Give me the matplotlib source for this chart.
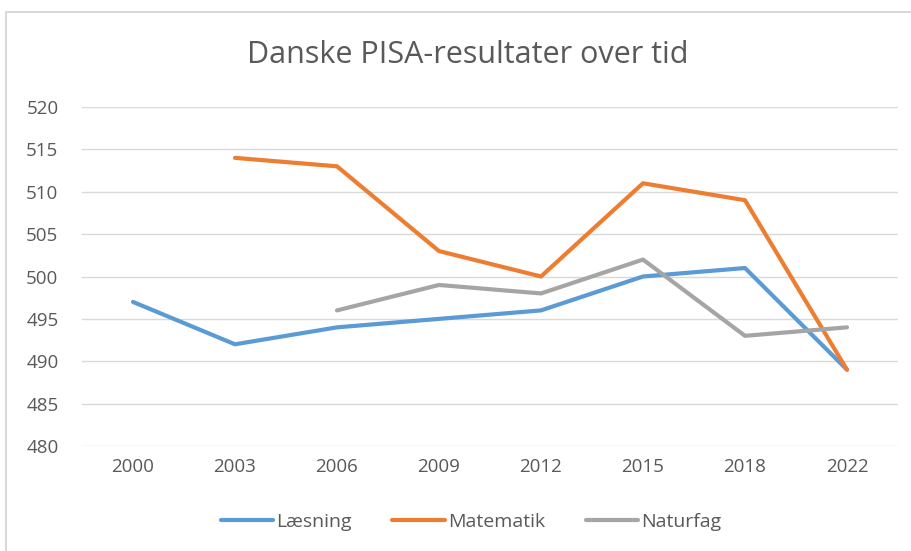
import numpy as np
import matplotlib.pyplot as plt
from matplotlib.patches import Rectangle

plt.rcParams['font.family'] = ['Open Sans', 'DejaVu Sans']

years = ['2000', '2003', '2006', '2009', '2012', '2015', '2018', '2022']
laesning = [497, 492, 494, 495, 496, 500, 501, 489]
matematik = [np.nan, 514, 513, 503, 500, 511, 509, 489]
naturfag = [np.nan, np.nan, 496, 499, 498, 502, 493, 494]

series = [('Læsning', laesning, '#5B9BD5'),
          ('Matematik', matematik, '#ED7D31'),
          ('Naturfag', naturfag, '#A5A5A5')]

fig = plt.figure(figsize=(9.11, 5.51), dpi=100)
ax = fig.add_axes([82 / 911, 1 - 446 / 551, 816 / 911, 339 / 551])

x = np.arange(len(years))
for name, vals, col in series:
    ax.plot(x, vals, color=col, linewidth=3, label=name,
            solid_capstyle='round', solid_joinstyle='round')

ax.set_xlim(-0.5, len(years) - 0.5)
ax.set_ylim(480, 520)
ax.set_yticks(np.arange(480, 521, 5))
ax.set_xticks(x)
ax.set_xticklabels(years)
ax.grid(axis='y', color='#D9D9D9', linewidth=1)
ax.set_axisbelow(True)
for s in ax.spines.values():
    s.set_visible(False)
ax.tick_params(length=0, labelsize=13.5, colors='#595959', pad=9)
ax.tick_params(axis='y', pad=17)

fig.text(468 / 911, 1 - 55 / 551, 'Danske PISA-resultater over tid',
         ha='center', va='center', fontsize=22, color='#595959')

fig.legend(loc='center', bbox_to_anchor=(471 / 911, 1 - 522 / 551), ncol=3,
           frameon=False, fontsize=14, labelcolor='#595959',
           handlelength=2.7, handletextpad=0.15, columnspacing=2.1)

# chart border (cut at right and bottom like the screenshot)
fig.patches.append(Rectangle((6 / 911, -0.1), 1.2, 1 - 12 / 551 + 0.1,
                             transform=fig.transFigure, fill=False,
                             edgecolor='#D9D9D9', linewidth=1.5))

fig.savefig('out.png', dpi=100)
